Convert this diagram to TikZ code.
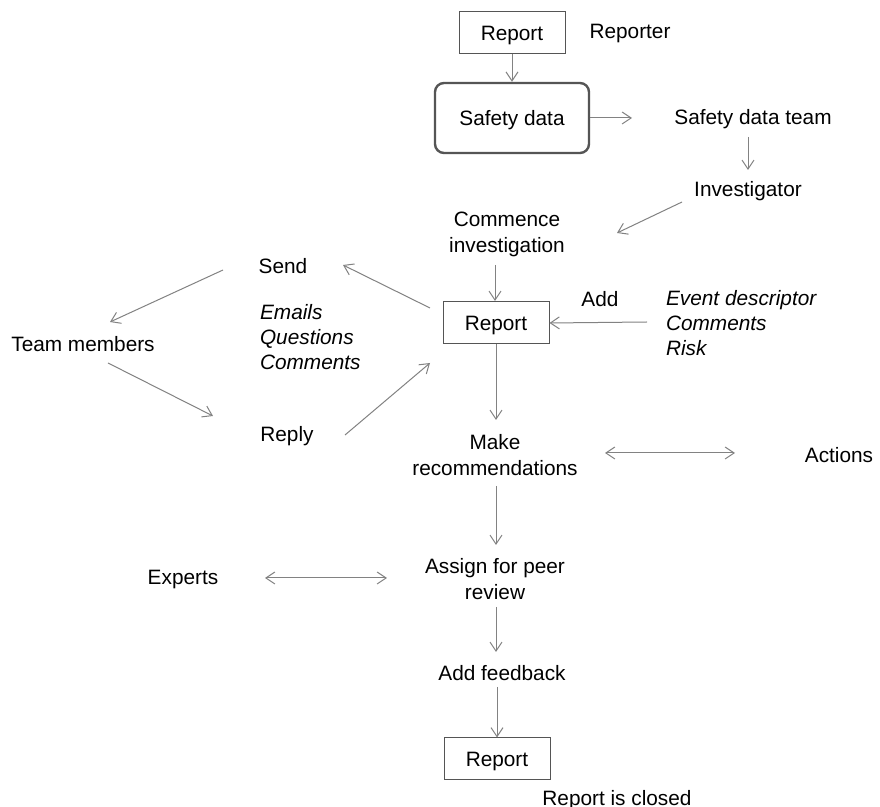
\documentclass[tikz,border=0pt]{standalone}
\usepackage{fontspec}
\setmainfont{Liberation Sans}
\usetikzlibrary{arrows.meta,calc}
\definecolor{linegray}{RGB}{130,130,130}
\definecolor{boxgray}{RGB}{85,85,85}

\begin{document}
\begin{tikzpicture}[
    x=0.5pt, y=-0.5pt,
    every node/.style={font=\fontsize{10.4}{13}\selectfont},
    box/.style={draw=boxgray, line width=0.5pt, minimum width=53pt, minimum height=21pt, text depth=0pt},
    store/.style={draw=boxgray, rounded corners=4.5pt, line width=1.2pt, minimum width=77pt, minimum height=35pt, text depth=0pt},
    twoline/.style={align=center},
    items/.style={align=left, anchor=west, font=\fontsize{10.4}{12.5}\selectfont\itshape},
    line/.style={-{Straight Barb[length=4.5pt,width=6pt]}, draw=linegray, line width=0.5pt},
    both/.style={line, {Straight Barb[length=4.5pt,width=6pt]}-{Straight Barb[length=4.5pt,width=6pt]}}
]
    \fill[white] (0,0) rectangle (880,807);
    \useasboundingbox (0,0) rectangle (880,807);

    \node[box] (rep1) at (512,33) {Report};
    \node (reporter) at (630,34) {Reporter};
    \node[store] (sdata) at (512,118) {Safety data};
    \node (sdteam) at (753,119) {Safety data team};
    \node (inv) at (748,191) {Investigator};
    \node[twoline] (start) at (507,234) {Commence\\investigation};
    \node[box] (rep2) at (496,323) {Report};
    \node (add) at (600,299) {Add};
    \node[items] (event) at (659,323) {Event descriptor\\Comments\\Risk};
    \node (send) at (283,266) {Send};
    \node[items] (msgs) at (253,337) {Emails\\Questions\\Comments};
    \node (members) at (83,344) {Team members};
    \node (reply) at (287,436) {Reply};
    \node[twoline] (recs) at (495,455) {Make\\recommendations};
    \node (actions) at (839,455) {Actions};
    \node[twoline] (peer) at (495,579) {Assign for peer\\review};
    \node (experts) at (183,580) {Experts};
    \node (feedback) at (502,673) {Add feedback};
    \node[box] (rep3) at (497,759) {Report};
    \node (closed) at (617,800) {Report is closed};

    % intake
    \draw[line] (rep1) -- (sdata);
    \draw[line] (sdata.east) -- ([shift={(-121,-1)}]sdteam.center);
    \draw[line] ([shift={(-5,18)}]sdteam.center) -- ([shift={(0,-21)}]inv.center);
    \draw[line] ([shift={(-66,11)}]inv.center) -- ([shift={(110,-1)}]start.center);
    \draw[line] ([shift={(-12,31)}]start.center) -- ([shift={(-1,-22)}]rep2.center);
    \draw[line] ([shift={(-12,-1)}]event.west) -- (rep2.east);

    % team loop
    \draw[line] ([shift={(-66,-15)}]rep2.center) -- ([shift={(60,-1)}]send.center);
    \draw[line] ([shift={(-60,4)}]send.center) -- ([shift={(27,-22)}]members.center);
    \draw[line] ([shift={(25,19)}]members.center) -- ([shift={(-74,-20)}]reply.center);
    \draw[line] ([shift={(58,-1)}]reply.center) -- ([shift={(-66,40)}]rep2.center);

    % closing
    \draw[line] (rep2.south) -- ([shift={(1,-35)}]recs.center);
    \draw[both] ([shift={(110,-2)}]recs.center) -- ([shift={(-104,-2)}]actions.center);
    \draw[line] ([shift={(1,31)}]recs.center) -- ([shift={(1,-34)}]peer.center);
    \draw[both] ([shift={(82,-2)}]experts.center) -- ([shift={(-108,-1)}]peer.center);
    \draw[line] ([shift={(1,28)}]peer.center) -- ([shift={(-6,-21)}]feedback.center);
    \draw[line] ([shift={(-5,14)}]feedback.center) -- (rep3.north);
\end{tikzpicture}
\end{document}
